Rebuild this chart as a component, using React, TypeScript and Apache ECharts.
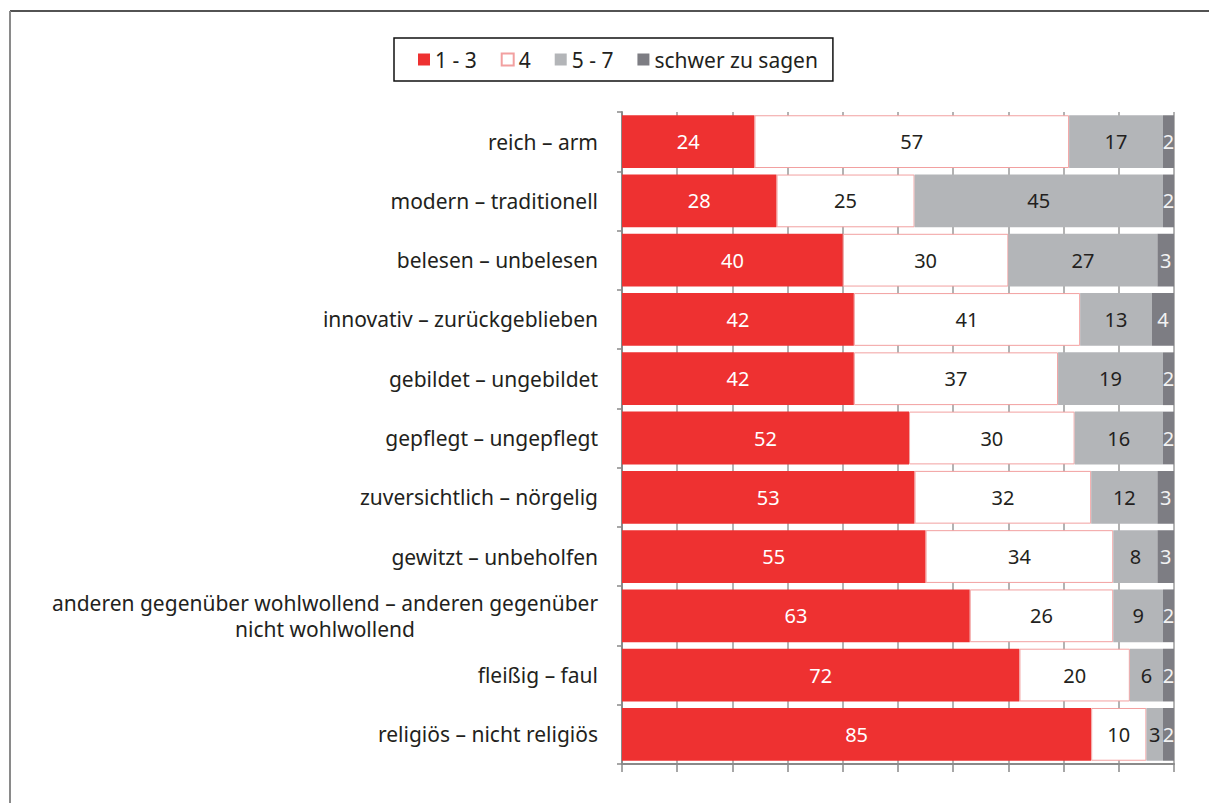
import React, { useEffect, useRef } from "react";
import * as echarts from "echarts";

const categories = [
  "reich – arm",
  "modern – traditionell",
  "belesen – unbelesen",
  "innovativ – zurückgeblieben",
  "gebildet – ungebildet",
  "gepflegt – ungepflegt",
  "zuversichtlich – nörgelig",
  "gewitzt – unbeholfen",
  "anderen gegenüber wohlwollend – anderen gegenüber\nnicht wohlwollend",
  "fleißig – faul",
  "religiös – nicht religiös",
];
const seriesNames = ["1 - 3", "4", "5 - 7", "schwer zu sagen"];
const v13 = [24, 28, 40, 42, 42, 52, 53, 55, 63, 72, 85];
const v4 = [57, 25, 30, 41, 37, 30, 32, 34, 26, 20, 10];
const v57 = [17, 45, 27, 13, 19, 16, 12, 8, 9, 6, 3];
const vSchwer = [2, 2, 3, 4, 2, 2, 3, 3, 2, 2, 2];

const FONT = "Noto Sans";

export default function App() {
  const ref = useRef<HTMLDivElement>(null);
  useEffect(() => {
    document.body.style.margin = "0";
    const chart = echarts.init(ref.current!, null, { renderer: "svg" });
    const colors = ["#EE3131", "#FFFFFF", "#B3B5B8", "#7D7D83"];
    const labelColors = ["#FFFFFF", "#231F20", "#231F20", "#F2F2F2"];
    const datas = [v13, v4, v57, vSchwer];
    const series = seriesNames.map((name, i) => ({
      name,
      type: "bar",
      stack: "total",
      data: datas[i],
      barCategoryGap: "11%",
      itemStyle: {
        color: colors[i],
        borderColor: i === 1 ? "#F2A0A0" : colors[i],
        borderWidth: i === 1 ? 1 : 0,
      },
      label: {
        show: true,
        position: "inside",
        color: labelColors[i],
        fontFamily: FONT,
        fontSize: 20,
        overflow: "none",
      },
    }));
    chart.setOption({
      animation: false,
      legend: {
        data: seriesNames,
        left: 394,
        top: 38,
        height: 44,
        padding: [11, 15, 11, 24],
        borderColor: "#111",
        borderWidth: 1.5,
        itemWidth: 12,
        itemHeight: 12,
        itemGap: 24,
        icon: "rect",
        textStyle: { fontFamily: FONT, fontSize: 21, color: "#231F20" },
      },
      grid: { left: 622, right: 35, top: 112, bottom: 39, containLabel: false },
      xAxis: {
        type: "value",
        min: 0,
        max: 100,
        interval: 10,
        axisLabel: { show: false },
        axisLine: { show: true, lineStyle: { color: "#8A8A8A", width: 2 } },
        axisTick: { show: true, length: 8, lineStyle: { color: "#8A8A8A", width: 1.5 } },
        splitLine: { show: true, lineStyle: { color: "#9A9A9A", width: 1.5 } },
      },
      yAxis: {
        type: "category",
        data: categories,
        inverse: true,
        axisLine: { show: true, lineStyle: { color: "#8A8A8A", width: 2 } },
        axisTick: { show: true, length: 5, lineStyle: { color: "#8A8A8A", width: 1.5 } },
        axisLabel: {
          margin: 24,
          fontFamily: FONT,
          fontSize: 21,
          color: "#231F20",
          formatter: (v: string) =>
            v.includes("\n") ? v.split("\n").map((l) => "{m|" + l + "}").join("\n") : v,
          rich: {
            m: { width: 546, align: "center", fontFamily: FONT, fontSize: 21, color: "#231F20", lineHeight: 26 },
          },
        },
      },
      graphic: [
        { type: "line", shape: { x1: 10, y1: 11, x2: 1209, y2: 11 }, style: { stroke: "#1A1A1A", lineWidth: 1.5 } },
        { type: "line", shape: { x1: 10, y1: 11, x2: 10, y2: 803 }, style: { stroke: "#8A8A8A", lineWidth: 2 } },
      ],
      series,
    });
    return () => chart.dispose();
  }, []);
  return <div ref={ref} style={{ width: 1209, height: 803 }} />;
}
